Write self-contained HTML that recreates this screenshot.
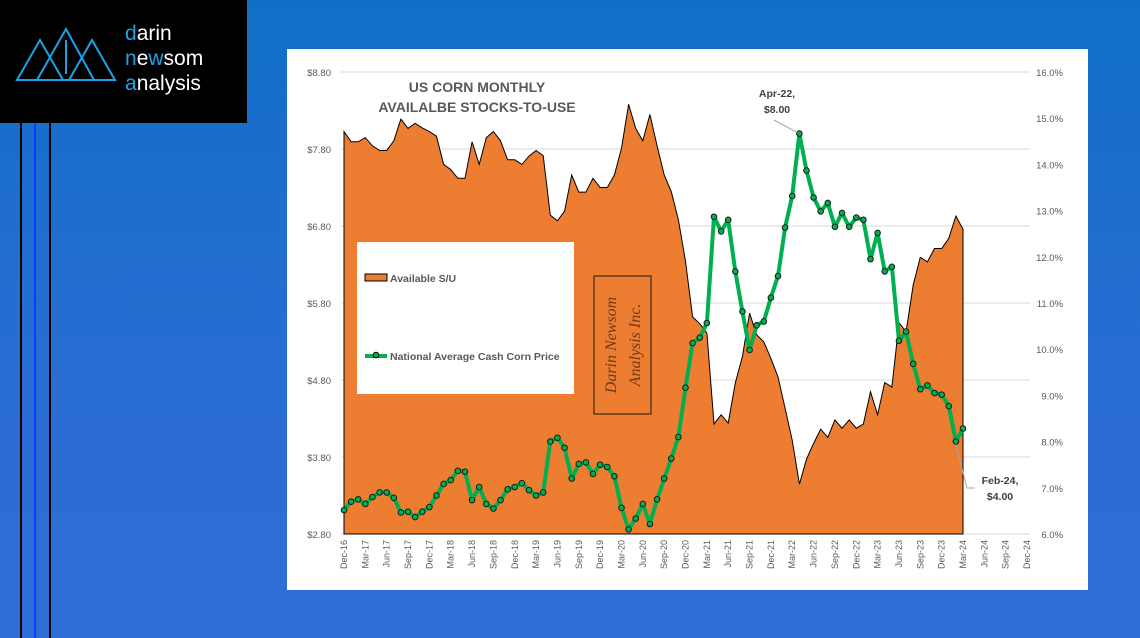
<!DOCTYPE html>
<html><head><meta charset="utf-8">
<style>
html,body{margin:0;padding:0;}
body{width:1140px;height:638px;overflow:hidden;position:relative;background:linear-gradient(180deg,#0f6fc6 0%,#2a6dd3 60%,#2f6dd6 100%);font-family:"Liberation Sans",sans-serif;}
#logo{position:absolute;left:0;top:0;width:247px;height:123px;background:#000;}
.vl{position:absolute;top:123px;bottom:0;}
#panel{position:absolute;left:287px;top:49px;width:801px;height:541px;background:#fff;}
svg text{font-family:"Liberation Sans",sans-serif;}
</style></head>
<body>
<div id="logo">
<svg width="247" height="123">
 <g fill="none" stroke="#1aa3e8" stroke-width="2">
  <polygon points="17,80 40,40 63,80"/>
  <polygon points="37,80 66,29 94,80"/>
  <polygon points="69,80 92,40 115,80"/>
  <line x1="66" y1="40" x2="66" y2="74"/>
 </g>
 <text x="125" y="40" font-size="21" fill="#fff"><tspan fill="#1aa3e8">d</tspan>arin</text>
 <text x="125" y="65" font-size="21" fill="#fff"><tspan fill="#1aa3e8">n</tspan>e<tspan fill="#1aa3e8">w</tspan>som</text>
 <text x="125" y="90" font-size="21" fill="#fff"><tspan fill="#1aa3e8">a</tspan>nalysis</text>
</svg>
</div>
<div class="vl" style="left:20px;width:2px;background:#000"></div>
<div class="vl" style="left:34px;width:2px;background:#0a3cff"></div>
<div class="vl" style="left:49px;width:2px;background:#000"></div>
<div id="panel"></div>
<svg id="chart" width="1140" height="638" style="position:absolute;left:0;top:0"></svg>
<script>
const months = [];
const mNames=["Jan","Feb","Mar","Apr","May","Jun","Jul","Aug","Sep","Oct","Nov","Dec"];
const priceValues = [3.11,3.22,3.25,3.19,3.28,3.34,3.34,3.27,3.08,3.09,3.02,3.09,3.15,3.30,3.45,3.50,3.62,3.61,3.24,3.41,3.19,3.13,3.24,3.38,3.41,3.46,3.37,3.30,3.34,4.00,4.05,3.92,3.52,3.71,3.73,3.58,3.70,3.67,3.55,3.14,2.86,3.00,3.19,2.93,3.25,3.52,3.78,4.06,4.70,5.28,5.35,5.54,6.92,6.73,6.88,6.21,5.69,5.19,5.51,5.56,5.87,6.15,6.78,7.19,8.00,7.52,7.17,6.99,7.10,6.79,6.97,6.79,6.91,6.88,6.37,6.71,6.21,6.27,5.31,5.43,5.01,4.68,4.73,4.63,4.61,4.46,4.00,4.17];
const stuValues = [14.71,14.49,14.49,14.58,14.40,14.30,14.30,14.51,14.98,14.78,14.89,14.79,14.71,14.61,14.00,13.89,13.70,13.70,14.49,14.00,14.58,14.71,14.51,14.10,14.10,14.00,14.18,14.30,14.19,12.90,12.78,12.99,13.77,13.40,13.40,13.70,13.50,13.50,13.77,14.35,15.30,14.78,14.51,15.08,14.40,13.77,13.41,12.80,11.90,10.70,10.55,10.35,8.38,8.58,8.40,9.27,9.84,10.78,10.31,10.16,9.80,9.40,8.72,8.03,7.08,7.62,7.96,8.27,8.09,8.47,8.29,8.47,8.29,8.38,9.08,8.58,9.28,9.18,10.57,10.38,11.39,11.99,11.89,12.18,12.18,12.40,12.88,12.60];
const leftTicks = [2.80,3.80,4.80,5.80,6.80,7.80,8.80];
const rightTicks = [6,7,8,9,10,11,12,13,14,15,16];
for(let i=0;i<=96;i++){const m=(11+i)%12;const y=16+Math.floor((11+i)/12);months.push(mNames[m]+"-"+y);}

const X0=344, DX=7.115, YT=72, YB=534;
const x=i=>X0+i*DX;
const yL=v=>YB-(v-2.8)/6*(YB-YT);
const yR=v=>YB-(v-6)/10*(YB-YT);
const svg=document.getElementById('chart');
const NS="http://www.w3.org/2000/svg";
function mk(tag,attrs,parent){const e=document.createElementNS(NS,tag);for(const k in attrs)e.setAttribute(k,attrs[k]);(parent||svg).appendChild(e);return e;}

leftTicks.forEach(v=>{
 const g=mk('line',{x1:X0-3,x2:1030,y1:yL(v),y2:yL(v),stroke:'#d9d9d9','stroke-width':1});
 
 
 const t=mk('text',{x:331,y:yL(v)+4,'font-size':9.5,fill:'#595959','text-anchor':'end'});
 t.textContent='$'+v.toFixed(2);
 
 
});
rightTicks.forEach(v=>{
 const t=mk('text',{x:1063,y:yR(v)+4,'font-size':9.5,fill:'#595959','text-anchor':'end'});
 t.textContent=v.toFixed(1)+'%';
 
 
});
let d='M'+x(0)+','+YB;
stuValues.forEach((v,i)=>{d+=' L'+x(i).toFixed(1)+','+yR(v).toFixed(1);});
d+=' L'+x(stuValues.length-1)+','+YB+' Z';
const area=mk('path',{d:d,fill:'#ed7d31',stroke:'#000','stroke-width':1});


for(let i=0;i<=96;i+=3){
 const t=mk('text',{x:0,y:0,'font-size':9,fill:'#595959','text-anchor':'end',transform:`translate(${x(i)+3},${YB+6}) rotate(-90)`});
 t.textContent=months[i];
 
 
}
[['US CORN MONTHLY',92],['AVAILALBE STOCKS-TO-USE',112]].forEach(([s,yy])=>{
 const t=mk('text',{x:477,y:yy,'font-size':14,'font-weight':'bold',fill:'#595959','text-anchor':'middle'});
 t.textContent=s;
 
 
});
const lg=mk('rect',{x:357,y:242,width:217,height:152,fill:'#fff'});


const l1=mk('rect',{x:365,y:274,width:22,height:7,fill:'#ed7d31',stroke:'#000','stroke-width':1});


const lt1=mk('text',{x:390,y:282,'font-size':10.5,'font-weight':'bold',fill:'#595959'});
lt1.textContent='Available S/U';


const l2=mk('line',{x1:365,x2:387,y1:356,y2:356,stroke:'#00b050','stroke-width':4});


mk('circle',{cx:376,cy:355,r:2.8,fill:'#00b050',stroke:'#000','stroke-width':1});
const lt2=mk('text',{x:390,y:360,'font-size':10.5,'font-weight':'bold',fill:'#595959'});
lt2.textContent='National Average Cash Corn Price';


const wm=mk('rect',{x:594,y:276,width:57,height:138,fill:'none',stroke:'#3a2a1a','stroke-width':1.2});


[['Darin Newsom',616],['Analysis Inc.',640]].forEach(([s,xx])=>{
 const t=mk('text',{x:0,y:0,'font-size':16,style:'font-family:"Liberation Serif",serif;font-style:italic',fill:'#6b3a1a','text-anchor':'middle',transform:`translate(${xx},345) rotate(-90)`});
 t.textContent=s;
 
 
});
const pts=priceValues.map((v,i)=>x(i).toFixed(1)+','+yL(v).toFixed(1)).join(' ');
const pl=mk('polyline',{points:pts,fill:'none',stroke:'#00b050','stroke-width':4,'stroke-linejoin':'round'});


priceValues.forEach((v,i)=>{
 const c=mk('circle',{cx:x(i),cy:yL(v),r:2.8,fill:'#00b050',stroke:'#1a1a1a','stroke-width':1});
 
 
});
const pk=64, fb=86;
mk('line',{x1:774,y1:120,x2:x(pk)-2,y2:yL(priceValues[pk])-1,stroke:'#a6a6a6','stroke-width':1});
[['Apr-22,',97],['$8.00',113]].forEach(([s,yy])=>{
 const t=mk('text',{x:777,y:yy,'font-size':10.5,'font-weight':'bold',fill:'#404040','text-anchor':'middle'});
 t.textContent=s;
 
 
});
mk('polyline',{points:`${x(fb)},${yL(priceValues[fb])+3} 967,488 975,488`,fill:'none',stroke:'#a6a6a6','stroke-width':1});
[['Feb-24,',484],['$4.00',500]].forEach(([s,yy])=>{
 const t=mk('text',{x:1000,y:yy,'font-size':10.5,'font-weight':'bold',fill:'#404040','text-anchor':'middle'});
 t.textContent=s;
 
 
});
</script>
</body></html>
